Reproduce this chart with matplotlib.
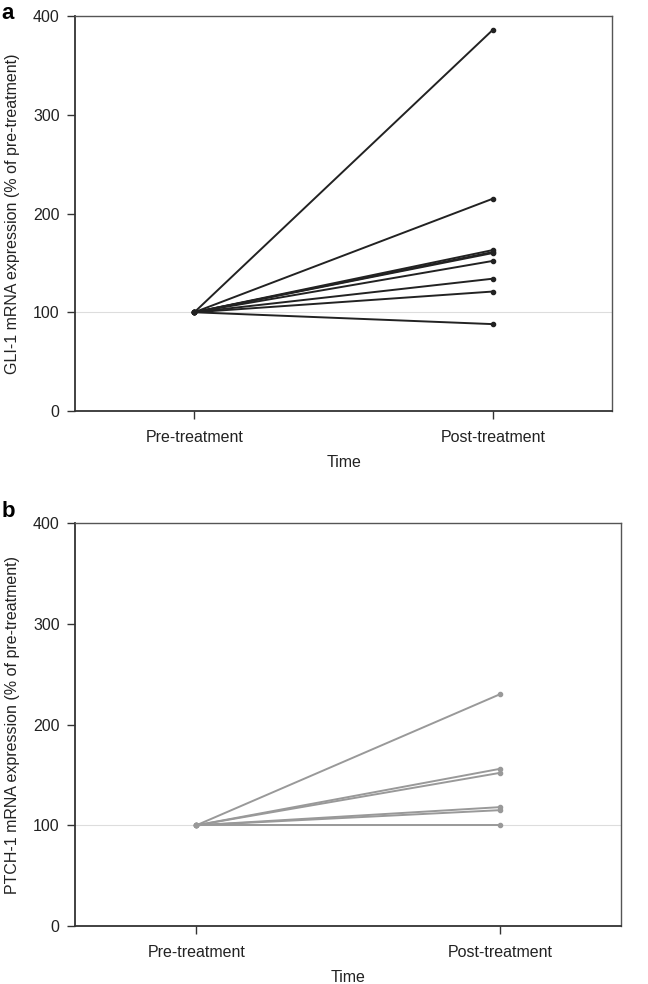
import matplotlib.pyplot as plt

plt.rcParams['font.family'] = ['Liberation Sans', 'DejaVu Sans']

time_labels = ["Pre-treatment", "Post-treatment"]

# GLI-1, % of pre-treatment (pre is 100 for every patient)
gli1_pre = [100, 100, 100, 100, 100, 100, 100, 100, 100]
gli1_post = [386, 215, 163, 161, 160, 152, 134, 121, 88]

# PTCH-1, % of pre-treatment
ptch1_pre = [100, 100, 100, 100, 100, 100]
ptch1_post = [230, 156, 152, 118, 115, 100]

fig = plt.figure(figsize=(6.48, 9.84), dpi=100)
ax_a = fig.add_axes([0.1157, 0.5823, 0.829, 0.4014])
ax_b = fig.add_axes([0.1157, 0.0589, 0.843, 0.4096])

FS = 11.5


def draw_panel(ax, pre, post, color, ylabel):
    ax.axhline(100, color="#dddddd", lw=0.8, zorder=0)
    for p0, p1 in zip(pre, post):
        ax.plot([0, 1], [p0, p1], color=color, lw=1.4, marker="o",
                markersize=3.0, zorder=2)
    ax.set_xlim(-0.4, 1.4)
    ax.set_ylim(0, 400)
    ax.set_yticks([0, 100, 200, 300, 400])
    ax.set_xticks([0, 1])
    ax.set_xticklabels(time_labels)
    ax.tick_params(axis="both", labelsize=FS, colors="#333333",
                   labelcolor="#222222", length=6, width=1.0, pad=5)
    ax.tick_params(axis="x", pad=8)
    for side in ["left", "bottom"]:
        ax.spines[side].set_color("#333333")
        ax.spines[side].set_linewidth(1.3)
    for side in ["top", "right"]:
        ax.spines[side].set_color("#555555")
        ax.spines[side].set_linewidth(1.0)
    ax.set_xlabel("Time", fontsize=FS, color="#222222", labelpad=7)
    ax.set_ylabel(ylabel, fontsize=FS, color="#222222", labelpad=9)


draw_panel(ax_a, gli1_pre, gli1_post, "#222222",
           "GLI-1 mRNA expression (% of pre-treatment)")
draw_panel(ax_b, ptch1_pre, ptch1_post, "#999999",
           "PTCH-1 mRNA expression (% of pre-treatment)")

fig.text(0.002, 0.997, "a", fontsize=16, fontweight="bold", va="top")
fig.text(0.002, 0.491, "b", fontsize=16, fontweight="bold", va="top")

fig.savefig("out.png", dpi=100)
